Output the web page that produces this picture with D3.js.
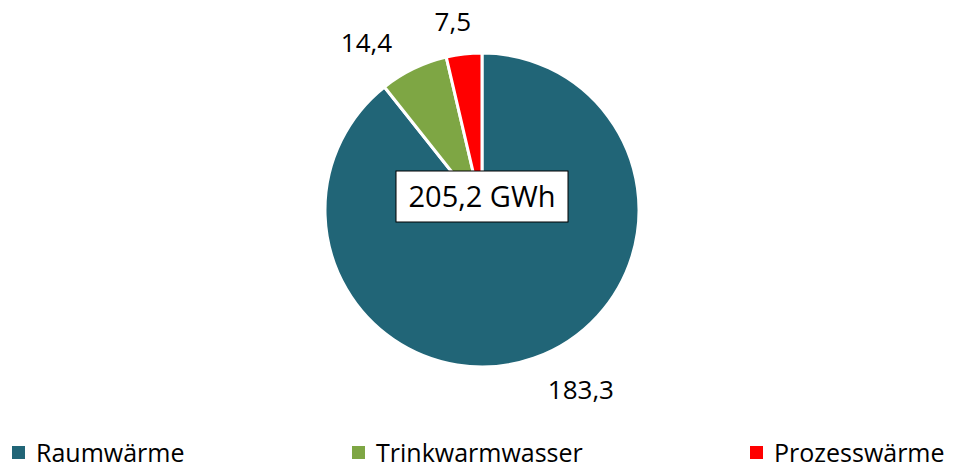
<!DOCTYPE html>
<meta charset="utf-8">
<style>
body { margin: 0; background: #fff; }
text { font-family: "Open Sans", "Noto Sans", sans-serif; fill: #000; }
</style>
<body>
<script src="https://cdn.jsdelivr.net/npm/d3@7"></script>
<script>

// data
var categories = ["Raumwärme", "Trinkwarmwasser", "Prozesswärme"];
var values = [183.3, 14.4, 7.5];
var colors = ["#216577", "#7ea644", "#ff0000"];
var totalLabel = "205,2 GWh";

var width = 958, height = 464;
var cx = 482, cy = 210, radius = 157;

var svg = d3.select("body").append("svg")
    .attr("width", width)
    .attr("height", height);

var data = categories.map(function(c, i) { return {name: c, value: values[i], color: colors[i]}; });

var pie = d3.pie().sort(null).value(function(d) { return d.value; });
var arc = d3.arc().innerRadius(0).outerRadius(radius);

var g = svg.append("g").attr("transform", "translate(" + cx + "," + cy + ")");

var arcs = pie(data);

g.selectAll("path")
    .data(arcs)
    .enter().append("path")
    .attr("d", arc)
    .attr("fill", function(d) { return d.data.color; })
    .attr("stroke", "#fff")
    .attr("stroke-width", 3)
    .attr("stroke-linejoin", "round");

// value labels, placed outside the slices
var fmt = function(v) { return d3.format(".1f")(v).replace(".", ","); };
var labelArc = d3.arc().innerRadius(radius + 28).outerRadius(radius + 28);
var offsets = [[38, 5], [-35, -1], [-8, -4]];

g.selectAll(".val")
    .data(arcs)
    .enter().append("text")
    .attr("class", "val")
    .attr("transform", function(d, i) {
        var p = labelArc.centroid(d);
        return "translate(" + (p[0] + offsets[i][0]) + "," + (p[1] + offsets[i][1]) + ")";
    })
    .attr("text-anchor", "middle")
    .attr("dy", "0.35em")
    .style("font-size", "26px")
    .text(function(d) { return fmt(d.data.value); });

// total box
var box = g.append("g").attr("transform", "translate(0,-13)");
box.append("rect")
    .attr("x", -86).attr("y", -26)
    .attr("width", 172).attr("height", 51)
    .attr("fill", "#fff")
    .attr("stroke", "#000")
    .attr("stroke-width", 1);
box.append("text")
    .attr("text-anchor", "middle")
    .attr("dy", "0.35em")
    .style("font-size", "29px")
    .text(totalLabel);

// legend
var legendX = [12, 352, 750];
var legend = svg.selectAll(".legend")
    .data(data)
    .enter().append("g")
    .attr("class", "legend")
    .attr("transform", function(d, i) { return "translate(" + legendX[i] + ",453)"; });

legend.append("rect")
    .attr("x", 0).attr("y", -7)
    .attr("width", 13).attr("height", 13)
    .attr("fill", function(d) { return d.color; });

legend.append("text")
    .attr("x", 24)
    .attr("dy", "0.35em")
    .style("font-size", "25px")
    .text(function(d) { return d.name; });

</script>
</body>
